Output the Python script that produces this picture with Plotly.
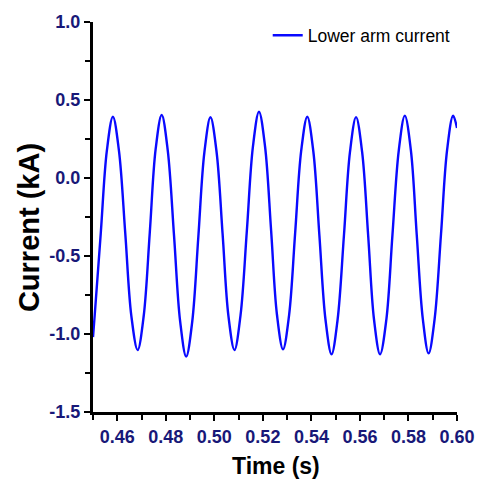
import plotly.graph_objects as go

# Time (s) and lower arm current (kA)
time_s = [
    0.4500, 0.4507, 0.4532, 0.4557, 0.4582,
    0.4607, 0.4633, 0.4658, 0.4684,
    0.4709, 0.4734, 0.4758, 0.4783,
    0.4808, 0.4834, 0.4859, 0.4884,
    0.4909, 0.4934, 0.4959, 0.4984,
    0.5009, 0.5034, 0.5058, 0.5083,
    0.5108, 0.5134, 0.5159, 0.5184,
    0.5209, 0.5234, 0.5258, 0.5283,
    0.5308, 0.5333, 0.5358, 0.5383,
    0.5408, 0.5433, 0.5458, 0.5483,
    0.5508, 0.5534, 0.5559, 0.5584,
    0.5609, 0.5634, 0.5658, 0.5683,
    0.5709, 0.5734, 0.5760, 0.5785,
    0.5810, 0.5834, 0.5859, 0.5883,
    0.5908, 0.5934, 0.5959, 0.5984,
    0.6000,
]
current_ka = [
    -1.02, -0.88, -0.354, 0.174, 0.393,
    0.174, -0.355, -0.884, -1.103,
    -0.883, -0.350, 0.183, 0.404,
    0.177, -0.371, -0.918, -1.145,
    -0.920, -0.378, 0.164, 0.389,
    0.170, -0.357, -0.884, -1.103,
    -0.879, -0.339, 0.201, 0.425,
    0.202, -0.337, -0.875, -1.098,
    -0.880, -0.353, 0.175, 0.393,
    0.170, -0.369, -0.907, -1.130,
    -0.907, -0.370, 0.167, 0.390,
    0.167, -0.370, -0.907, -1.130,
    -0.906, -0.365, 0.176, 0.400,
    0.177, -0.362, -0.901, -1.124,
    -0.901, -0.362, 0.177, 0.400,
    0.32,
]

x_tickvals = [0.46, 0.48, 0.50, 0.52, 0.54, 0.56, 0.58, 0.60]
x_ticktext = ["0.46", "0.48", "0.50", "0.52", "0.54", "0.56", "0.58", "0.60"]
y_tickvals = [-1.5, -1.0, -0.5, 0.0, 0.5, 1.0]
y_ticktext = ["-1.5", "-1.0", "-0.5", "0.0", "0.5", "1.0"]

series_name = "Lower arm current"
x_title = "Time (s)"
y_title = "Current (kA)"

TICK_COLOR = "#181878"
FONT = "Liberation Sans, Arial, sans-serif"

fig = go.Figure()
fig.add_trace(go.Scatter(
    x=time_s, y=current_ka, mode="lines", name=series_name,
    line=dict(color="#0a0aff", width=2.4, shape="spline", smoothing=1.0),
))

axis_common = dict(
    showgrid=False, zeroline=False, showline=True, linecolor="black",
    linewidth=3, ticks="outside", ticklen=6, tickwidth=2, tickcolor="black",
    tickfont=dict(family=FONT, size=18, color=TICK_COLOR, weight="bold"),
    minor=dict(ticks="outside", ticklen=5, tickwidth=2, tickcolor="black"),
)

fig.update_xaxes(
    range=[0.45, 0.60], tickmode="array", tickvals=x_tickvals, ticktext=x_ticktext,
    minor_dtick=0.01, minor_tick0=0.45, **axis_common,
)
fig.update_yaxes(
    range=[-1.5, 1.0], tickmode="array", tickvals=y_tickvals, ticktext=y_ticktext,
    minor_dtick=0.25, minor_tick0=-1.5, **axis_common,
)

fig.update_layout(
    width=487, height=487,
    margin=dict(l=93, r=24, t=22, b=75),
    paper_bgcolor="white", plot_bgcolor="white",
    showlegend=True,
    legend=dict(
        x=0.48, y=1.012, xanchor="left", yanchor="top",
        bgcolor="rgba(0,0,0,0)", borderwidth=0,
        font=dict(family=FONT, size=17.5, color="black"),
    ),
    annotations=[
        dict(text=x_title, xref="paper", yref="paper", x=0.503, y=-0.138,
             xanchor="center", yanchor="middle", showarrow=False,
             font=dict(family=FONT, size=23, color="black", weight="bold")),
        dict(text=y_title, xref="paper", yref="paper", x=-0.176, y=0.474,
             xanchor="center", yanchor="middle", showarrow=False, textangle=-90,
             font=dict(family=FONT, size=29, color="black", weight="bold")),
    ],
)

fig.write_html(
    "out.html",
    config={"displayModeBar": False},
    post_script="document.body.style.margin='0';document.body.style.overflow='hidden';",
)
